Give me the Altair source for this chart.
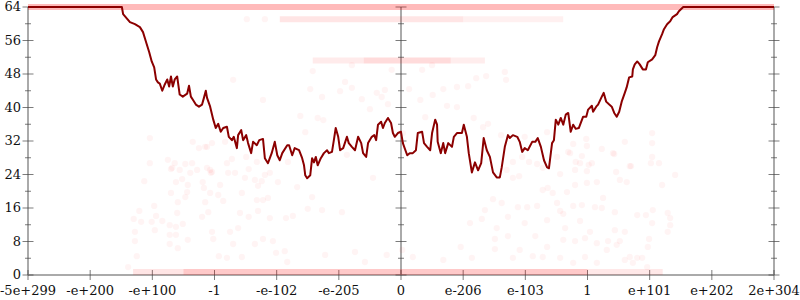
import altair as alt
import pandas as pd

# ---------------- data ----------------
x_labels = ["-5e+299", "-e+200", "-e+100", "-1", "-e-102", "-e-205", "0",
            "e-206", "e-103", "1", "e+101", "e+202", "2e+304"]
x_label_pos = list(range(13))
y_major = [0, 8, 16, 24, 32, 40, 48, 56, 64]
y_minor = [4, 12, 20, 28, 36, 44, 52, 60]
axis_pos = [0, 6, 12]

line_x = [0, 1.43, 1.51, 1.53, 1.64, 1.72, 1.80, 1.85, 1.90, 1.95,
          1.99, 2.03, 2.06, 2.09, 2.12, 2.16, 2.20, 2.24, 2.27, 2.30,
          2.33, 2.36, 2.40, 2.44, 2.49, 2.56, 2.59, 2.62, 2.65, 2.70,
          2.75, 2.80, 2.83, 2.86, 2.88, 2.93, 2.98, 3.02, 3.06, 3.10,
          3.14, 3.20, 3.23, 3.28, 3.31, 3.36, 3.38, 3.43, 3.46, 3.51,
          3.54, 3.59, 3.62, 3.68, 3.72, 3.78, 3.81, 3.86, 3.92, 3.97,
          4.01, 4.05, 4.09, 4.17, 4.20, 4.25, 4.29, 4.36, 4.41, 4.44,
          4.46, 4.49, 4.54, 4.57, 4.60, 4.63, 4.66, 4.71, 4.76, 4.81,
          4.84, 4.89, 4.92, 4.95, 4.99, 5.02, 5.07, 5.13, 5.16, 5.21,
          5.26, 5.31, 5.36, 5.39, 5.44, 5.47, 5.53, 5.57, 5.60, 5.63,
          5.68, 5.71, 5.74, 5.79, 5.84, 5.87, 5.90, 5.95, 6.00, 6.03,
          6.10, 6.14, 6.19, 6.24, 6.27, 6.34, 6.37, 6.42, 6.47, 6.50,
          6.55, 6.58, 6.59, 6.64, 6.68, 6.71, 6.76, 6.82, 6.85, 6.90,
          6.98, 7.01, 7.06, 7.09, 7.14, 7.19, 7.24, 7.29, 7.33, 7.38,
          7.43, 7.48, 7.54, 7.59, 7.62, 7.67, 7.72, 7.75, 7.80, 7.87,
          7.91, 7.95, 7.99, 8.04, 8.11, 8.16, 8.20, 8.25, 8.30, 8.35,
          8.38, 8.43, 8.46, 8.49, 8.53, 8.57, 8.61, 8.65, 8.69, 8.73,
          8.77, 8.81, 8.86, 8.93, 8.98, 9.01, 9.07, 9.09, 9.14, 9.17,
          9.23, 9.26, 9.30, 9.35, 9.39, 9.43, 9.47, 9.51, 9.55, 9.60,
          9.63, 9.67, 9.72, 9.73, 9.76, 9.80, 9.84, 9.89, 9.94, 9.97,
          10.04, 10.09, 10.12, 10.15, 10.20, 10.23, 10.28, 10.33, 10.37, 10.44,
          10.47, 10.54, 12]
line_y = [64, 64, 64, 62.3, 60.4, 59.9, 59.2, 58.0, 55.6, 53.2,
          51.0, 49.6, 46.7, 46.0, 45.7, 44.0, 45.5, 46.7, 45.0, 47.4,
          45.0, 46.7, 47.4, 43.1, 42.6, 43.3, 45.2, 42.6, 41.9, 40.7,
          40.2, 40.7, 42.3, 44.0, 42.3, 40.2, 37.1, 35.1, 36.1, 34.2,
          35.1, 35.4, 33.0, 32.2, 33.0, 30.3, 33.4, 34.6, 32.2, 33.4,
          31.5, 29.1, 31.8, 31.0, 32.2, 32.5, 27.9, 26.7, 29.1, 31.8,
          28.6, 27.4, 29.1, 31.0, 31.0, 28.6, 30.3, 29.8, 27.9, 26.2,
          23.8, 23.1, 23.8, 27.9, 26.9, 28.2, 26.2, 27.9, 29.1, 29.8,
          29.1, 29.4, 32.2, 35.1, 33.0, 29.8, 30.3, 33.0, 31.5, 30.6,
          29.8, 33.0, 31.5, 29.1, 28.2, 31.5, 33.0, 33.4, 32.2, 35.9,
          36.6, 35.1, 36.3, 37.5, 36.3, 33.9, 33.0, 33.9, 34.2, 31.5,
          28.6, 29.1, 29.1, 29.8, 33.9, 34.2, 31.5, 30.6, 29.8, 33.9,
          37.1, 35.9, 31.8, 29.1, 31.5, 29.1, 31.5, 30.6, 33.0, 33.9,
          33.9, 35.9, 33.0, 29.1, 24.5, 26.9, 25.0, 26.7, 32.7, 29.8,
          28.2, 24.5, 23.3, 23.3, 25.7, 30.6, 33.4, 32.7, 33.4, 33.0,
          31.8, 29.4, 30.3, 29.8, 31.8, 31.8, 32.7, 30.6, 27.4, 25.7,
          25.5, 31.5, 32.2, 37.1, 35.9, 37.5, 35.9, 38.3, 38.7, 34.2,
          35.9, 34.9, 35.1, 37.8, 37.8, 39.5, 40.4, 39.0, 40.2, 40.7,
          42.6, 43.5, 41.4, 40.7, 40.2, 38.7, 37.8, 39.0, 41.4, 43.5,
          44.8, 47.2, 47.4, 49.1, 50.3, 51.0, 50.3, 49.1, 49.1, 50.8,
          51.5, 52.5, 54.4, 55.8, 57.5, 58.7, 59.9, 60.6, 61.6, 62.3,
          63.0, 64, 64]

scatter_points = [
    (1.96, 26.7), (2.25, 27.5), (2.36, 26.7), (2.53, 26.5), (2.64, 26.7), (1.87, 22.4), (2.30, 25.3), (2.44, 25.1),
    (2.38, 22.2), (2.48, 22.9), (2.57, 21.5), (2.56, 19.8), (2.53, 18.6), (2.30, 19.6), (2.41, 17.4), (2.03, 16.5),
    (1.79, 15.3), (2.40, 14.8), (1.70, 13.4), (1.82, 12.7), (1.99, 12.7), (2.06, 14.1), (2.16, 12.9), (2.28, 11.9),
    (2.38, 11.5), (2.49, 12.2), (1.72, 10.3), (2.04, 10.7), (2.28, 9.6), (2.38, 9.6), (1.72, 8.1), (2.57, 8.4),
    (2.28, 7.4), (2.41, 6.4), (1.75, 4.5), (1.61, 1.9), (1.96, 32.7), (2.65, 31.8), (2.75, 30.3), (2.88, 30.6),
    (2.96, 31.5), (3.17, 31.8), (3.20, 26.7), (3.28, 27.7), (3.51, 28.2), (2.72, 25.1), (2.32, 25.6), (2.93, 25.1),
    (2.61, 24.4), (2.81, 22.2), (2.94, 24.4), (3.22, 24.4), (3.33, 24.4), (3.49, 23.2), (3.65, 22.7), (3.09, 21.5),
    (3.68, 27.0), (3.30, 46.6), (3.52, 61.1), (3.81, 61.1), (2.88, 25.6), (2.96, 24.6), (3.55, 25.3), (3.81, 23.9),
    (3.89, 24.4), (3.76, 22.4), (2.83, 20.8), (2.93, 19.6), (3.06, 19.1), (3.44, 19.6), (3.70, 21.3), (4.02, 22.2),
    (4.18, 27.0), (4.33, 21.0), (2.85, 17.4), (3.14, 17.7), (3.68, 17.9), (3.78, 17.9), (3.86, 18.4), (3.70, 15.3),
    (2.90, 15.0), (3.41, 14.8), (2.80, 13.9), (3.55, 13.9), (3.89, 13.6), (4.15, 13.6), (4.26, 14.1), (4.73, 15.5),
    (4.50, 15.8), (2.96, 10.3), (3.25, 10.3), (3.38, 11.2), (2.98, 8.6), (3.30, 7.4), (3.65, 7.4), (3.78, 8.6),
    (3.94, 8.1), (3.07, 4.5), (3.20, 4.1), (3.44, 4.3), (3.99, 5.3), (4.13, 5.7), (4.17, 3.1), (4.78, 4.8),
    (5.26, 5.5), (5.77, 4.8), (5.42, 3.1), (4.57, 18.6), (5.13, 28.7), (5.55, 23.2), (5.05, 15.0), (3.78, 41.8),
    (4.38, 38.0), (4.58, 48.7), (4.54, 44.4), (4.73, 42.5), (4.66, 37.5), (4.75, 37.0), (5.02, 43.9), (5.10, 46.1),
    (5.21, 50.1), (5.21, 44.7), (5.37, 42.0), (5.50, 39.6), (5.61, 43.5), (5.69, 42.5), (5.74, 44.2), (5.85, 49.0),
    (5.79, 40.8), (2.85, 30.6), (4.46, 34.1),
    (6.34, 49.0), (6.50, 50.1), (7.21, 47.0), (7.37, 47.5), (7.67, 48.5), (7.69, 46.6), (6.13, 44.4), (6.51, 43.0),
    (6.68, 44.4), (6.90, 44.9), (7.08, 45.1), (6.31, 41.8), (6.74, 40.4), (6.90, 40.1), (6.39, 37.7), (7.17, 37.5),
    (7.32, 35.3), (7.40, 36.1), (7.99, 33.0), (8.35, 34.1), (8.77, 31.3), (8.99, 30.8), (7.61, 33.4), (6.03, 33.9),
    (7.80, 27.0), (7.95, 28.2), (8.06, 27.0), (7.70, 25.1), (7.80, 23.2), (7.90, 23.6), (8.28, 25.6), (8.36, 20.8),
    (8.19, 26.5), (8.51, 28.2), (8.69, 29.4), (8.88, 26.7), (9.07, 26.7), (8.28, 20.3), (8.44, 19.6), (8.67, 19.8),
    (8.80, 21.5), (8.99, 22.0), (9.15, 22.2), (7.48, 18.1), (7.62, 17.2), (7.88, 16.2), (8.03, 16.2), (8.19, 16.5),
    (8.51, 17.2), (8.56, 15.3), (8.61, 14.6), (8.77, 16.5), (8.91, 16.7), (9.12, 16.2), (7.35, 15.5), (7.30, 13.4),
    (7.11, 12.4), (7.72, 13.9), (7.99, 12.4), (8.35, 13.1), (8.64, 11.2), (8.88, 12.9), (9.04, 10.3), (7.54, 11.2),
    (6.96, 6.7), (7.51, 8.6), (7.72, 9.3), (8.16, 9.3), (8.35, 6.7), (8.61, 8.4), (8.80, 8.1), (8.96, 8.8),
    (9.15, 7.6), (6.19, 4.3), (6.68, 3.6), (7.14, 4.1), (7.51, 6.2), (7.80, 4.1), (7.91, 6.0), (8.12, 4.5),
    (8.28, 4.3), (8.56, 4.1), (8.77, 2.9), (8.96, 4.3), (9.15, 2.9), (6.02, 6.0), (9.41, 29.1), (10.04, 28.2),
    (10.02, 26.7), (10.15, 26.7), (9.68, 26.0), (9.46, 24.6), (9.52, 22.7), (9.63, 22.2), (10.20, 21.5), (10.41, 23.9),
    (9.25, 18.4), (9.23, 16.0), (9.44, 15.0), (9.80, 14.3), (9.94, 14.3), (10.05, 15.5), (10.29, 14.8), (10.33, 13.6),
    (10.04, 12.4), (10.33, 11.9), (9.44, 10.7), (9.60, 10.3), (10.29, 10.3), (9.33, 8.1), (9.52, 8.1), (9.47, 7.2),
    (9.99, 8.6), (9.97, 6.7), (9.31, 6.0), (9.68, 4.3), (9.60, 3.6), (9.80, 4.1), (9.88, 4.1), (9.73, 2.9),
    (9.96, 1.9), (10.04, 33.9), (10.04, 31.5), (8.98, 32.5), (9.23, 30.1), (9.43, 28.9), (9.60, 31.8), (8.72, 29.1),
    (8.91, 28.4), (8.81, 27.0), (9.02, 26.3), (9.70, 26.0), (8.99, 24.8), (8.80, 25.1), (8.56, 24.1),
]

# dense rows of overlapping points, summarised as segments
band_x1 = [0.0, 4.05, 7.0, 4.58, 5.4, 6.8, 1.69, 2.5, 9.0]
band_x2 = [12.0, 7.0, 8.61, 5.4, 6.8, 7.35, 2.5, 9.0, 10.21]
band_y = [64.0, 61.1, 61.1, 51.2, 51.2, 51.2, 0.7, 0.7, 0.7]
band_op = [0.27, 0.1, 0.06, 0.08, 0.14, 0.07, 0.1, 0.21, 0.09]

# ---------------- tables ----------------
line_df = pd.DataFrame({"x": line_x, "y": line_y})
pts_df = pd.DataFrame(scatter_points, columns=["x", "y"])
band_df = pd.DataFrame({"x": band_x1, "x2": band_x2, "y": band_y, "op": band_op})
vaxis_df = pd.DataFrame({"x": axis_pos, "y": [0] * 3, "y2": [64] * 3})
haxis_df = pd.DataFrame({"x": [0], "x2": [12], "y": [0]})
major_df = pd.DataFrame([{"x": a, "y": v} for a in axis_pos for v in y_major])
minor_df = pd.DataFrame([{"x": a, "y": v} for a in axis_pos for v in y_minor])
xtick_df = pd.DataFrame({"x": x_label_pos, "y": [0] * 13, "label": x_labels})
ylab_df = pd.DataFrame({"x": [0] * len(y_major), "y": y_major, "label": [str(v) for v in y_major]})

XS = alt.Scale(domain=[0, 12], nice=False, zero=False)
YS = alt.Scale(domain=[0, 64], nice=False, zero=False)
X = alt.X("x:Q", scale=XS, axis=None)
Y = alt.Y("y:Q", scale=YS, axis=None)

FONT = "DejaVu Serif"
AXIS_GRAY = "#aaaaaa"
TICK = "#444444"

vaxes = alt.Chart(vaxis_df).mark_rule(color=AXIS_GRAY, strokeWidth=2).encode(x=X, y=Y, y2="y2:Q")
haxis = alt.Chart(haxis_df).mark_rule(color=AXIS_GRAY, strokeWidth=2).encode(x=X, x2="x2:Q", y=Y)

major = alt.Chart(major_df).mark_tick(orient="horizontal", size=11, thickness=1, color=TICK).encode(x=X, y=Y)
minor = alt.Chart(minor_df).mark_tick(orient="horizontal", size=6, thickness=1, color=TICK).encode(x=X, y=Y)
xticks = alt.Chart(xtick_df).mark_tick(orient="vertical", size=10, thickness=1, color=TICK).encode(x=X, y=Y)

xlabels = alt.Chart(xtick_df).mark_text(
    font=FONT, fontSize=13, color="#111", align="center", baseline="alphabetic", dy=20
).encode(x=X, y=Y, text="label:N")
ylabels = alt.Chart(ylab_df).mark_text(
    font=FONT, fontSize=13, color="#111", align="right", baseline="middle", dx=-7
).encode(x=X, y=Y, text="label:N")

bands = alt.Chart(band_df).mark_rule(color="#ff0000", strokeWidth=6, strokeCap="butt").encode(
    x=X, x2="x2:Q", y=Y, opacity=alt.Opacity("op:Q", scale=None)
)
points = alt.Chart(pts_df).mark_circle(color="#ff0000", size=40, opacity=0.045).encode(x=X, y=Y)
line = alt.Chart(line_df).mark_line(color="#8b0000", strokeWidth=2, strokeJoin="round").encode(x=X, y=Y)

chart = alt.layer(
    vaxes, haxis, major, minor, xticks, xlabels, ylabels, bands, points, line
).properties(
    width=746, height=268,
    padding={"left": 28, "top": 7, "right": 26, "bottom": 25},
    autosize=alt.AutoSizeParams(type="none"),
    background="white",
).configure_view(stroke=None)

chart.save("out.html", embed_options={"renderer": "svg", "actions": False})
